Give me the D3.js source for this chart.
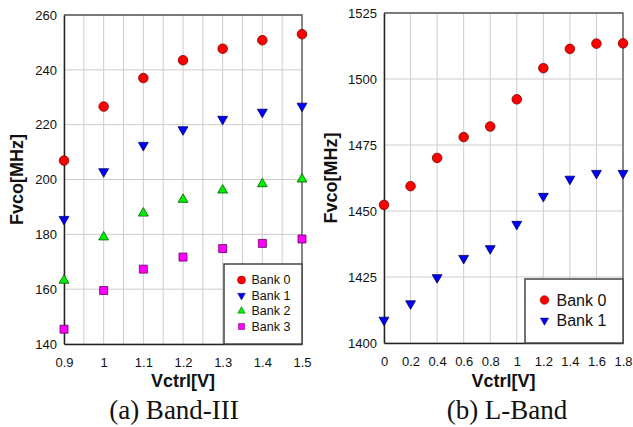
<!DOCTYPE html>
<html>
<head>
<meta charset="utf-8">
<script src="https://cdn.jsdelivr.net/npm/d3@7"></script>
<style>
  body { margin: 0; background: #fff; }
  svg { display: block; font-family: Arial, "Liberation Sans", sans-serif; }
</style>
</head>
<body>
<div id="chart"></div>
<script>
// (a) Band-III
const vctrlA = [0.9, 1.0, 1.1, 1.2, 1.3, 1.4, 1.5]
const bank0A = [206.9, 226.6, 237.0, 243.5, 247.7, 250.8, 253.0]
const bank1A = [185.5, 202.9, 212.5, 218.2, 222.0, 224.6, 226.8]
const bank2A = [163.2, 179.0, 187.7, 192.7, 196.1, 198.4, 200.1]
const bank3A = [145.4, 159.5, 167.3, 171.7, 174.8, 176.7, 178.3]
const xTicksA = [0.9, 1.0, 1.1, 1.2, 1.3, 1.4, 1.5]
const yTicksA = [140, 160, 180, 200, 220, 240, 260]

// (b) L-Band
const vctrlB = [0, 0.2, 0.4, 0.6, 0.8, 1.0, 1.2, 1.4, 1.6, 1.8]
const bank0B = [1452.3, 1459.4, 1470.1, 1478.0, 1482.0, 1492.3, 1504.1, 1511.4, 1513.4, 1513.5]
const bank1B = [1408.7, 1414.9, 1424.8, 1432.1, 1435.8, 1445.0, 1455.6, 1462.1, 1464.3, 1464.3]
const xTicksB = [0, 0.2, 0.4, 0.6, 0.8, 1.0, 1.2, 1.4, 1.6, 1.8]
const yTicksB = [1400, 1425, 1450, 1475, 1500, 1525]

const seriesNames = ["Bank 0", "Bank 1", "Bank 2", "Bank 3"]

const markerStyle = {
    "Bank 0": { type: d3.symbolCircle, fill: "#ff0000", stroke: "#7a0000", rot: 0 },
    "Bank 1": { type: d3.symbolTriangle, fill: "#0000ff", stroke: "#000060", rot: 180 },
    "Bank 2": { type: d3.symbolTriangle, fill: "#00ee00", stroke: "#006000", rot: 0 },
    "Bank 3": { type: d3.symbolSquare, fill: "#ff00ff", stroke: "#600060", rot: 0 }
}

const svg = d3.select("#chart")
    .append("svg")
        .attr("width", 633)
        .attr("height", 427)

function drawPanel(opt) {
    const g = svg.append("g")
    const x = d3.scaleLinear().domain(opt.xDomain).range([opt.left, opt.right])
    const y = d3.scaleLinear().domain(opt.yDomain).range([opt.bottom, opt.top])

    // grid
    g.append("g")
        .selectAll("line")
        .data(x.ticks(opt.xGridCount))
        .join("line")
            .attr("x1", d => x(d)).attr("x2", d => x(d))
            .attr("y1", opt.top).attr("y2", opt.bottom)
            .attr("stroke", "#cccccc").attr("stroke-width", 1)
    g.append("g")
        .selectAll("line")
        .data(opt.yTicks)
        .join("line")
            .attr("x1", opt.left).attr("x2", opt.right)
            .attr("y1", d => y(d)).attr("y2", d => y(d))
            .attr("stroke", "#cccccc").attr("stroke-width", 1)

    // frame
    g.append("path")
        .attr("d", `M${opt.left},${opt.top}H${opt.right}V${opt.bottom}`)
        .attr("fill", "none").attr("stroke", "#555").attr("stroke-width", 1.3)

    // axes
    g.append("g")
        .attr("transform", "translate(0," + opt.bottom + ")")
        .call(d3.axisBottom(x).tickValues(opt.xTicks).tickSize(0).tickPadding(14).tickFormat(d => String(d)))
        .call(s => s.select(".domain").attr("stroke", "#222").attr("stroke-width", 1.5))
        .call(s => s.selectAll("text").attr("font-size", 13).attr("fill", "#111"))
    g.append("g")
        .attr("transform", "translate(" + opt.left + ",0)")
        .call(d3.axisLeft(y).tickValues(opt.yTicks).tickSize(0).tickPadding(7).tickFormat(d3.format("d")))
        .call(s => s.select(".domain").attr("stroke", "#222").attr("stroke-width", 1.5))
        .call(s => s.selectAll("text").attr("font-size", 13).attr("fill", "#111"))

    // points
    opt.series.forEach(function(s) {
        const st = markerStyle[s.name]
        const sym = d3.symbol().type(st.type).size(st.type === d3.symbolCircle ? 72 : (st.type === d3.symbolSquare ? 64 : 42))
        g.append("g")
            .selectAll("path")
            .data(s.values.map((v, i) => [opt.xs[i], v]))
            .join("path")
                .attr("d", sym)
                .attr("transform", d => `translate(${x(d[0])},${y(d[1])}) rotate(${st.rot})`)
                .attr("fill", st.fill)
                .attr("stroke", st.stroke)
                .attr("stroke-width", 0.8)
    })

    // legend
    const lg = g.append("g")
    lg.append("rect")
        .attr("x", opt.legend.x).attr("y", opt.legend.y)
        .attr("width", opt.right - opt.legend.x).attr("height", opt.bottom - opt.legend.y)
        .attr("fill", "#fff").attr("stroke", "#444").attr("stroke-width", 1.5)
    const items = lg.selectAll("g.item")
        .data(opt.series.map(s => s.name))
        .join("g")
            .attr("class", "item")
            .attr("transform", (d, i) => `translate(${opt.legend.mx},${opt.legend.first + i * opt.legend.step})`)
    items.append("path")
        .attr("d", d => {
            const t = markerStyle[d].type
            return d3.symbol().type(t).size(t === d3.symbolCircle ? opt.legend.msize : (t === d3.symbolSquare ? opt.legend.msize * 0.75 : opt.legend.msize * 0.5))()
        })
        .attr("transform", d => `rotate(${markerStyle[d].rot})`)
        .attr("fill", d => markerStyle[d].fill)
        .attr("stroke", d => markerStyle[d].stroke)
        .attr("stroke-width", 0.5)
    items.append("text")
        .attr("x", opt.legend.tx)
        .attr("dy", "0.35em")
        .attr("font-size", opt.legend.fontSize)
        .attr("fill", "#111")
        .text(d => d)

    // titles
    g.append("text")
        .attr("x", (opt.left + opt.right) / 2)
        .attr("y", 387)
        .attr("text-anchor", "middle")
        .attr("font-size", 18).attr("font-weight", "bold").attr("fill", "#111")
        .text("Vctrl[V]")
    g.append("text")
        .attr("transform", `translate(${opt.ylabX},${(opt.top + opt.bottom) / 2}) rotate(-90)`)
        .attr("text-anchor", "middle")
        .attr("dy", "0.35em")
        .attr("font-size", 18).attr("font-weight", "bold").attr("fill", "#111")
        .text("Fvco[MHz]")
    g.append("text")
        .attr("x", opt.capX)
        .attr("y", 419)
        .attr("text-anchor", "middle")
        .attr("font-family", "'Liberation Serif', 'Times New Roman', serif")
        .attr("font-size", 27).attr("fill", "#111")
        .text(opt.caption)
}

drawPanel({
    left: 64, right: 302, top: 15, bottom: 344,
    xDomain: [0.9, 1.5], yDomain: [140, 260],
    xTicks: xTicksA, yTicks: yTicksA, xGridCount: 12,
    xs: vctrlA,
    series: [
        { name: seriesNames[0], values: bank0A },
        { name: seriesNames[1], values: bank1A },
        { name: seriesNames[2], values: bank2A },
        { name: seriesNames[3], values: bank3A }
    ],
    legend: { x: 224, y: 264, mx: 241.5, tx: 10, first: 280, step: 15.5, fontSize: 12.5, msize: 50 },
    ylabX: 17, capX: 174, caption: "(a) Band-III"
})

drawPanel({
    left: 384, right: 623, top: 13, bottom: 343,
    xDomain: [0, 1.8], yDomain: [1400, 1525],
    xTicks: xTicksB, yTicks: yTicksB, xGridCount: 9,
    xs: vctrlB,
    series: [
        { name: seriesNames[0], values: bank0B },
        { name: seriesNames[1], values: bank1B }
    ],
    legend: { x: 525, y: 279, mx: 544.5, tx: 12, first: 300, step: 20.5, fontSize: 16, msize: 60 },
    ylabX: 331, capX: 507, caption: "(b) L-Band"
})
</script>
</body>
</html>
